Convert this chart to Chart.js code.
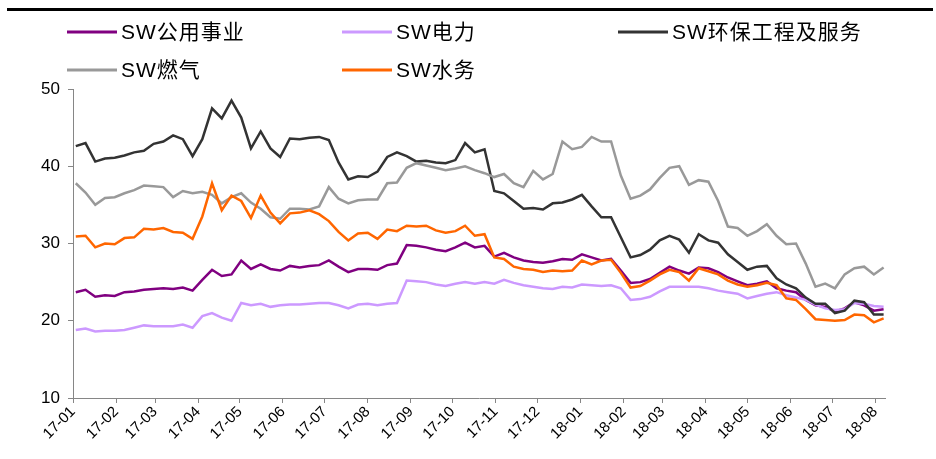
<!DOCTYPE html>
<html>
<head>
<meta charset="utf-8">
<script src="https://cdn.jsdelivr.net/npm/chart.js@4/dist/chart.umd.min.js"></script>
<style>
  html, body { margin: 0; padding: 0; background: #fff; }
  #wrap { position: relative; width: 936px; height: 459px; }
</style>
</head>
<body>
<div id="wrap"><canvas id="lineChart" width="936" height="459"></canvas></div>
<script>
// fechas semanales (inicio de cada semana de cotizacion)
var dates = [
  '2017-01-03','2017-01-10','2017-01-17','2017-01-24','2017-01-31','2017-02-07','2017-02-14','2017-02-21','2017-02-28',
  '2017-03-07','2017-03-14','2017-03-21','2017-03-28','2017-04-04','2017-04-11','2017-04-18','2017-04-25','2017-05-02',
  '2017-05-09','2017-05-16','2017-05-23','2017-05-30','2017-06-06','2017-06-13','2017-06-20','2017-06-27','2017-07-04',
  '2017-07-11','2017-07-18','2017-07-25','2017-08-01','2017-08-08','2017-08-15','2017-08-22','2017-08-29','2017-09-05',
  '2017-09-12','2017-09-19','2017-09-26','2017-10-03','2017-10-10','2017-10-17','2017-10-24','2017-10-31','2017-11-07',
  '2017-11-14','2017-11-21','2017-11-28','2017-12-05','2017-12-12','2017-12-19','2017-12-26',
  '2018-01-02','2018-01-09','2018-01-16','2018-01-23','2018-01-30','2018-02-06','2018-02-13','2018-02-20','2018-02-27',
  '2018-03-06','2018-03-13','2018-03-20','2018-03-27','2018-04-03','2018-04-10','2018-04-17','2018-04-24','2018-05-01',
  '2018-05-08','2018-05-15','2018-05-22','2018-05-29','2018-06-05','2018-06-12','2018-06-19','2018-06-26','2018-07-03',
  '2018-07-10','2018-07-17','2018-07-24','2018-07-31','2018-08-07'
];

var gongyong = [
  23.7,24.0,23.1,23.3,23.2,23.7,23.8,24.0,24.1,24.2,24.1,24.3,23.9,25.3,26.6,25.8,26.0,27.8,26.7,27.3,
  26.7,26.5,27.1,26.9,27.1,27.2,27.8,27.0,26.3,26.7,26.7,26.6,27.2,27.4,29.8,29.7,29.5,29.2,29.0,29.5,
  30.1,29.5,29.7,28.3,28.8,28.2,27.8,27.6,27.5,27.7,28.0,27.9,28.6,28.2,27.8,28.0,26.5,24.9,25.0,25.4,
  26.2,27.0,26.5,26.1,26.9,26.8,26.3,25.6,25.1,24.6,24.8,25.1,24.2,23.9,23.7,22.7,22.0,21.8,21.2,21.6,
  22.4,22.0,21.3,21.5
];
var dianli = [
  18.8,19.0,18.6,18.7,18.7,18.8,19.1,19.4,19.3,19.3,19.3,19.5,19.1,20.6,21.0,20.4,20.0,22.3,22.0,22.2,
  21.8,22.0,22.1,22.1,22.2,22.3,22.3,22.0,21.6,22.1,22.2,22.0,22.2,22.3,25.2,25.1,25.0,24.7,24.5,24.8,
  25.0,24.8,25.0,24.8,25.3,24.9,24.6,24.4,24.2,24.1,24.4,24.3,24.7,24.6,24.5,24.6,24.2,22.7,22.8,23.1,
  23.8,24.4,24.4,24.4,24.4,24.2,23.9,23.7,23.5,22.9,23.2,23.5,23.7,23.3,23.0,22.7,22.1,21.6,21.4,21.5,
  22.3,22.2,21.9,21.8
];
var huanbao = [
  42.6,43.0,40.6,41.0,41.1,41.4,41.8,42.0,42.9,43.2,44.0,43.5,41.3,43.5,47.5,46.2,48.5,46.3,42.3,44.5,
  42.3,41.2,43.6,43.5,43.7,43.8,43.4,40.5,38.3,38.7,38.6,39.3,41.2,41.8,41.3,40.6,40.7,40.5,40.4,40.8,
  43.0,41.8,42.2,36.8,36.5,35.5,34.5,34.6,34.4,35.2,35.3,35.7,36.3,34.8,33.4,33.4,30.8,28.2,28.5,29.2,
  30.4,31.0,30.5,28.8,31.2,30.4,30.1,28.6,27.6,26.6,27.0,27.1,25.5,24.7,24.2,23.0,22.2,22.2,21.0,21.3,
  22.6,22.4,20.8,20.8
];
var ranqi = [
  37.8,36.6,35.0,35.9,36.0,36.5,36.9,37.5,37.4,37.3,36.0,36.8,36.5,36.7,36.3,35.2,36.0,36.5,35.3,34.5,
  33.4,33.2,34.5,34.5,34.4,34.8,37.3,35.8,35.2,35.6,35.7,35.7,37.8,37.9,39.8,40.4,40.1,39.8,39.5,39.7,
  40.0,39.5,39.1,38.6,39.0,37.8,37.3,39.4,38.3,39.0,43.2,42.2,42.5,43.8,43.2,43.2,38.8,35.8,36.2,37.0,
  38.5,39.8,40.0,37.6,38.2,38.0,35.5,32.2,32.0,31.0,31.6,32.5,31.0,29.9,30.0,27.4,24.4,24.8,24.2,26.0,
  26.8,27.0,26.0,26.9
];
var shuiwu = [
  30.9,31.0,29.5,30.0,29.9,30.7,30.8,31.9,31.8,32.0,31.5,31.4,30.6,33.5,37.8,34.3,36.2,35.5,33.3,36.2,
  34.0,32.6,33.9,34.0,34.3,33.8,32.9,31.5,30.4,31.3,31.4,30.6,31.8,31.6,32.3,32.2,32.3,31.7,31.4,31.6,
  32.3,31.0,31.2,28.2,28.0,27.0,26.7,26.6,26.3,26.5,26.4,26.5,27.8,27.3,27.8,27.9,26.2,24.3,24.5,25.2,
  26.0,26.6,26.3,25.2,26.8,26.4,26.0,25.2,24.7,24.4,24.6,24.9,24.6,22.9,22.7,21.5,20.2,20.1,20.0,20.1,
  20.8,20.7,19.8,20.3
];

var seriesNames = ['SW公用事业', 'SW电力', 'SW环保工程及服务', 'SW燃气', 'SW水务'];
var seriesColors = ['#800080', '#CC99FF', '#333333', '#999999', '#FF6600'];

var monthDates = ['2017-01-01','2017-02-01','2017-03-01','2017-04-01','2017-05-01','2017-06-01','2017-07-01',
  '2017-08-01','2017-09-01','2017-10-01','2017-11-01','2017-12-01','2018-01-01','2018-02-01','2018-03-01',
  '2018-04-01','2018-05-01','2018-06-01','2018-07-01','2018-08-01'];
var monthLabels = ['17-01','17-02','17-03','17-04','17-05','17-06','17-07','17-08','17-09','17-10',
  '17-11','17-12','18-01','18-02','18-03','18-04','18-05','18-06','18-07','18-08'];
var yTicks = [10, 20, 30, 40, 50];

var t0 = Date.parse('2017-01-01');
function dayOf(s) { return (Date.parse(s) - t0) / 86400000; }
var monthDays = monthDates.map(dayOf);

function pts(vals) {
  return vals.map(function (v, i) { return { x: dayOf(dates[i]), y: v }; });
}

var allSeries = [gongyong, dianli, huanbao, ranqi, shuiwu];
var datasets = allSeries.map(function (vals, i) {
  return {
    label: seriesNames[i],
    data: pts(vals),
    borderColor: seriesColors[i],
    backgroundColor: seriesColors[i],
    borderWidth: 2.5,
    pointRadius: 0,
    tension: 0,
    order: allSeries.length - i
  };
});

var FONT_LAT = "'Liberation Sans', Arial, sans-serif";
var FONT_CJK = "'Liberation Sans', 'Noto Sans CJK SC', sans-serif";

// leyenda propia en cuadricula de 3 columnas
var legendGrid = {
  id: 'legendGrid',
  afterDraw: function (chart) {
    var c = chart.ctx;
    c.save();
    c.fillStyle = '#000';
    c.fillRect(7, 8, 926, 3);
    var cols = [67, 342, 618];
    var rows = [32, 70];
    c.font = '21px ' + FONT_CJK;
    c.letterSpacing = '1px';
    c.textBaseline = 'middle';
    chart.data.datasets.forEach(function (ds, i) {
      var x = cols[i % 3], y = rows[Math.floor(i / 3)];
      c.strokeStyle = ds.borderColor;
      c.lineWidth = 3;
      c.beginPath(); c.moveTo(x, y); c.lineTo(x + 50, y); c.stroke();
      c.fillStyle = '#000';
      c.fillText(ds.label, x + 54, y + 1);
    });
    c.restore();
  }
};

var ctx = document.getElementById('lineChart').getContext('2d');
var myChart = new Chart(ctx, {
  type: 'line',
  data: { datasets: datasets },
  plugins: [legendGrid],
  options: {
    responsive: false,
    animation: false,
    events: [],
    layout: { padding: { top: 89, right: 51, left: 0, bottom: 0 } },
    plugins: { legend: { display: false }, tooltip: { enabled: false } },
    scales: {
      x: {
        type: 'linear',
        min: 0,
        max: dayOf('2018-08-08'),
        afterBuildTicks: function (scale) {
          scale.ticks = monthDays.map(function (d) { return { value: d }; });
        },
        afterFit: function (scale) { scale.height = 61; },
        border: { color: '#868686', width: 1 },
        grid: { drawOnChartArea: false, drawTicks: true, tickLength: 5, color: '#868686' },
        ticks: {
          autoSkip: false,
          minRotation: 45,
          maxRotation: 45,
          padding: 0,
          color: '#000',
          font: { family: FONT_LAT, size: 15 },
          callback: function (v) {
            var k = monthDays.indexOf(v);
            return k >= 0 ? monthLabels[k] : '';
          }
        }
      },
      y: {
        min: 10,
        max: 50,
        afterBuildTicks: function (scale) {
          scale.ticks = yTicks.map(function (v) { return { value: v }; });
        },
        afterFit: function (scale) { scale.width = 73; },
        border: { color: '#868686', width: 1 },
        grid: { drawOnChartArea: false, drawTicks: true, tickLength: 5, color: '#868686' },
        ticks: {
          padding: 8,
          color: '#000',
          font: { family: FONT_LAT, size: 17 }
        }
      }
    }
  }
});
</script>
</body>
</html>
